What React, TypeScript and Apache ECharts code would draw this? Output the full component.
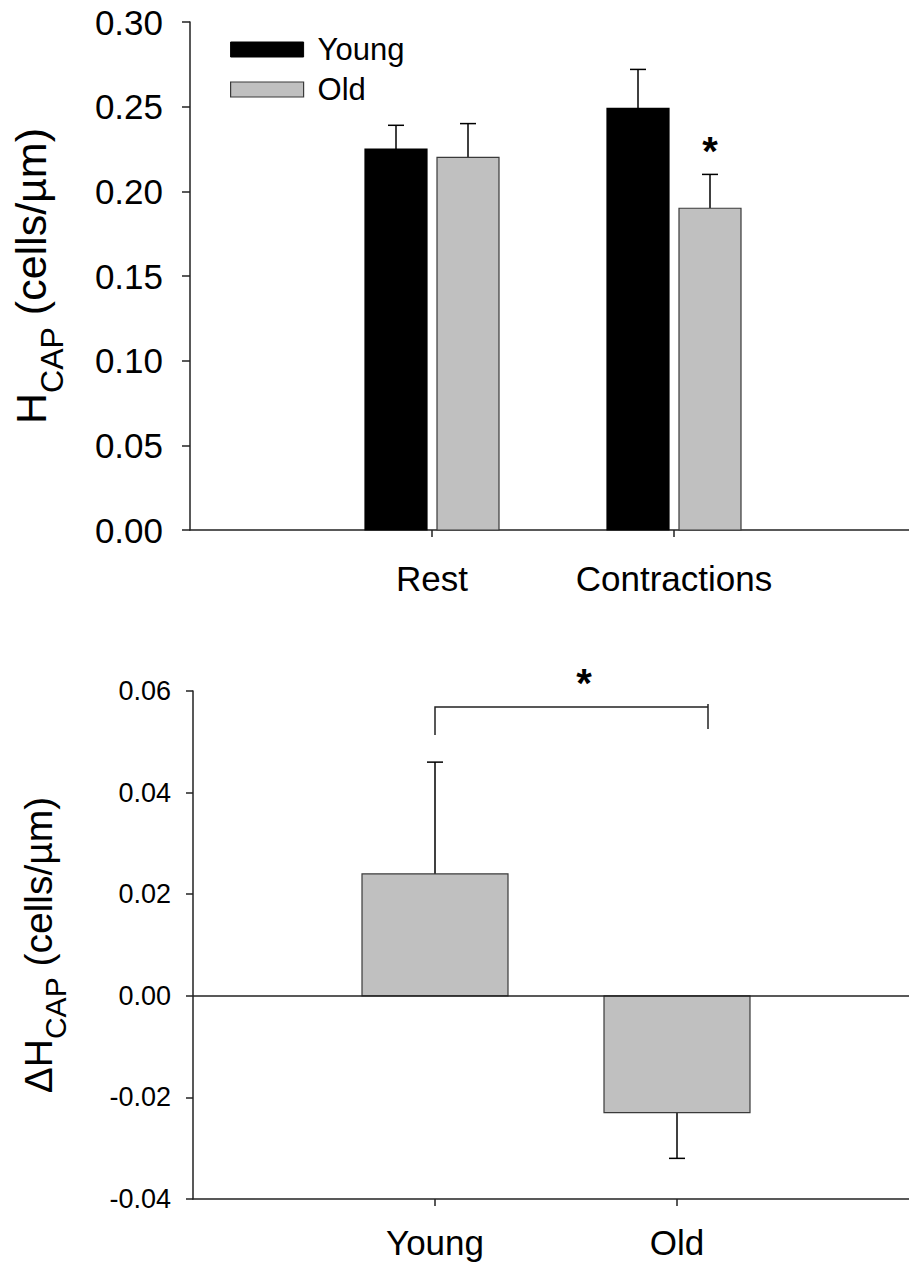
import React, { useEffect, useRef } from "react";
import * as echarts from "echarts";

// ---- Data ----
const topCategories = ["Rest", "Contractions"];
const youngMeans = [0.225, 0.249];
const youngSem = [0.014, 0.023];
const oldMeans = [0.22, 0.19];
const oldSem = [0.02, 0.02];
const topTicks = [0, 0.05, 0.1, 0.15, 0.2, 0.25, 0.3];

const bottomCategories = ["Young", "Old"];
const deltaMeans = [0.024, -0.023];
const deltaSem = [0.022, 0.009];
const bottomTicks = [-0.04, -0.02, 0, 0.02, 0.04, 0.06];

const FONT = "'Liberation Sans', Arial, Helvetica, sans-serif";
const GRAY = "#c0c0c0";
const EDGE = "#3a3a3a";

function barRenderer(offset: number, width: number, fill: string, stroke: string) {
  return (params: any, api: any) => {
    const x = api.value(0);
    const v = api.value(1);
    const sem = api.value(2);
    const end = v >= 0 ? v + sem : v - sem;
    const p = api.coord([x, v]);
    const b = api.coord([x, 0]);
    const t = api.coord([x, end]);
    const cx = p[0] + offset;
    const y0 = Math.min(p[1], b[1]);
    const h = Math.abs(b[1] - p[1]);
    return {
      type: "group",
      children: [
        {
          type: "line",
          shape: { x1: cx, y1: p[1], x2: cx, y2: t[1] },
          style: { stroke: "#000", lineWidth: 1.5 },
        },
        {
          type: "line",
          shape: { x1: cx - 8, y1: t[1], x2: cx + 8, y2: t[1] },
          style: { stroke: "#000", lineWidth: 1.5 },
        },
        {
          type: "rect",
          shape: { x: cx - width / 2, y: y0, width, height: h },
          style: { fill, stroke, lineWidth: 1.2 },
        },
      ],
    };
  };
}

export default function App() {
  const ref = useRef<HTMLDivElement>(null);
  useEffect(() => {
    if (!ref.current) return;
    const chart = echarts.init(ref.current, null, { renderer: "svg" });
    const youngData = youngMeans.map((m, i) => [i + 1, m, youngSem[i]]);
    const oldData = oldMeans.map((m, i) => [i + 1, m, oldSem[i]]);
    const deltaData = deltaMeans.map((m, i) => [i + 1, m, deltaSem[i]]);

    const axisLineStyle = { color: "#222", width: 1.5 };

    chart.setOption({
      animation: false,
      backgroundColor: "#fff",
      textStyle: { fontFamily: FONT, color: "#000" },
      grid: [
        { left: 190, right: 0, top: 22, height: 508 },
        { left: 193, right: 0, top: 691, height: 508 },
      ],
      legend: {
        orient: "vertical",
        left: 225,
        top: 29,
        itemWidth: 73,
        itemHeight: 15,
        itemGap: 9,
        selectedMode: false,
        textStyle: { fontSize: 31, color: "#000", fontFamily: FONT, lineHeight: 20, padding: [0, 0, 0, 9] },
        data: [
          { name: "Young", icon: "rect", itemStyle: { color: "#000", borderColor: "#000", borderWidth: 1 } },
          { name: "Old", icon: "rect", itemStyle: { color: GRAY, borderColor: EDGE, borderWidth: 1.2 } },
        ],
      },
      xAxis: [
        {
          type: "value",
          gridIndex: 0,
          min: 0,
          max: 719 / 242,
          splitLine: { show: false },
          axisLine: { lineStyle: axisLineStyle },
          axisTick: { show: true, customValues: [1, 2], length: 7, lineStyle: { color: "#222", width: 1.5 } },
          axisLabel: {
            customValues: [1, 2],
            formatter: (v: number) => topCategories[Math.round(v) - 1] ?? "",
            fontSize: 35,
            color: "#000",
            margin: 31,
            fontFamily: FONT,
          },
        },
        {
          type: "value",
          gridIndex: 1,
          min: 0,
          max: 716 / 242,
          splitLine: { show: false },
          axisLine: { onZero: false, lineStyle: axisLineStyle },
          axisTick: { show: true, customValues: [1, 2], length: 7, lineStyle: { color: "#222", width: 1.5 } },
          axisLabel: {
            customValues: [1, 2],
            formatter: (v: number) => bottomCategories[Math.round(v) - 1] ?? "",
            fontSize: 35,
            color: "#000",
            margin: 26,
            fontFamily: FONT,
          },
        },
      ],
      yAxis: [
        {
          type: "value",
          gridIndex: 0,
          min: topTicks[0],
          max: topTicks[topTicks.length - 1],
          interval: 0.05,
          splitLine: { show: false },
          axisLine: { show: true, lineStyle: axisLineStyle },
          axisTick: { show: true, length: 8, lineStyle: { color: "#222", width: 1.5 } },
          axisLabel: {
            formatter: (v: number) => v.toFixed(2),
            fontSize: 35,
            color: "#000",
            margin: 27,
            fontFamily: FONT,
          },
          name: "{h|H}{s|CAP}{h| (cells/µm)}",
          nameLocation: "middle",
          nameRotate: 90,
          nameGap: 122,
          nameTextStyle: {
            fontFamily: FONT,
            color: "#000",
            rich: {
              h: { fontSize: 43, fontFamily: FONT, verticalAlign: "bottom", padding: [0, 0, 16, 0] },
              s: { fontSize: 32, fontFamily: FONT, verticalAlign: "bottom" },
            },
          },
        },
        {
          type: "value",
          gridIndex: 1,
          min: bottomTicks[0],
          max: bottomTicks[bottomTicks.length - 1],
          interval: 0.02,
          splitLine: { show: false },
          axisLine: { show: true, onZero: false, lineStyle: axisLineStyle },
          axisTick: { show: true, length: 7, lineStyle: { color: "#222", width: 1.5 } },
          axisLabel: {
            formatter: (v: number) => v.toFixed(2),
            fontSize: 27,
            color: "#000",
            margin: 22,
            fontFamily: FONT,
          },
          name: "{h|ΔH}{s|CAP}{h| (cells/µm)}",
          nameLocation: "middle",
          nameRotate: 90,
          nameGap: 123,
          nameTextStyle: {
            fontFamily: FONT,
            color: "#000",
            rich: {
              h: { fontSize: 39, fontFamily: FONT, verticalAlign: "bottom", padding: [0, 0, 12, 0] },
              s: { fontSize: 30, fontFamily: FONT, verticalAlign: "bottom" },
            },
          },
        },
      ],
      series: [
        {
          name: "Young",
          type: "custom",
          xAxisIndex: 0,
          yAxisIndex: 0,
          clip: false,
          itemStyle: { color: "#000" },
          renderItem: barRenderer(-36, 62, "#000", "#000"),
          encode: { x: 0, y: 1 },
          data: youngData,
        },
        {
          name: "Old",
          type: "custom",
          xAxisIndex: 0,
          yAxisIndex: 0,
          clip: false,
          itemStyle: { color: GRAY },
          renderItem: barRenderer(36, 62, GRAY, EDGE),
          encode: { x: 0, y: 1 },
          data: oldData,
        },
        {
          name: "Change",
          type: "custom",
          xAxisIndex: 1,
          yAxisIndex: 1,
          clip: false,
          itemStyle: { color: GRAY },
          renderItem: barRenderer(0, 146, GRAY, EDGE),
          encode: { x: 0, y: 1 },
          data: deltaData,
          markLine: {
            silent: true,
            symbol: ["none", "none"],
            label: { show: false },
            lineStyle: { color: "#222", width: 1.5, type: "solid" },
            data: [{ yAxis: 0 }],
          },
        },
      ],
      graphic: [
        {
          type: "text",
          x: 710,
          y: 151,
          style: { text: "*", fontSize: 40, fontWeight: "bold", fontFamily: FONT, fill: "#000", textAlign: "center", textVerticalAlign: "middle" },
        },
        {
          type: "text",
          x: 584,
          y: 683,
          style: { text: "*", fontSize: 40, fontWeight: "bold", fontFamily: FONT, fill: "#000", textAlign: "center", textVerticalAlign: "middle" },
        },
        {
          type: "polyline",
          shape: { points: [[435, 735], [435, 707], [708, 707]] },
          style: { stroke: "#222", lineWidth: 1.5, fill: null },
        },
        {
          type: "line",
          shape: { x1: 708, y1: 704, x2: 708, y2: 729 },
          style: { stroke: "#222", lineWidth: 1.5 },
        },
      ],
    });
    return () => chart.dispose();
  }, []);
  return (
    <div
      ref={ref}
      style={{ position: "absolute", left: 0, top: 0, width: 909, height: 1266, background: "#fff" }}
    />
  );
}
